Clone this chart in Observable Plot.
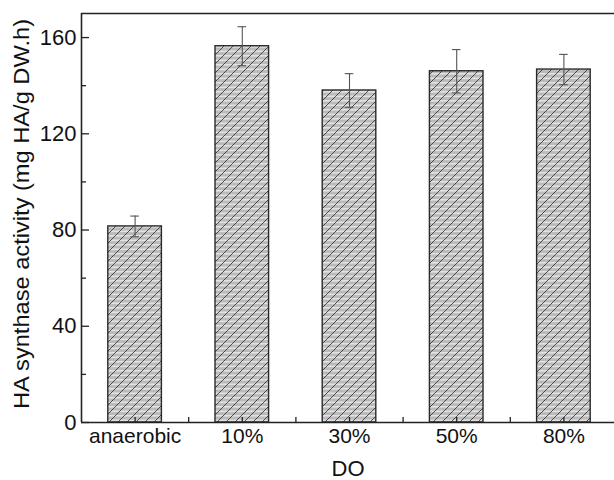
<!DOCTYPE html>
<html>
<head>
<meta charset="utf-8">
<script src="https://cdn.jsdelivr.net/npm/d3@7"></script>
<script src="https://cdn.jsdelivr.net/npm/@observablehq/plot@0.6"></script>
<style>
  html, body { margin: 0; padding: 0; background: #fff; }
  #chart svg { display: block; }
</style>
</head>
<body>
<div id="chart"></div>
<script>
const categories = ["anaerobic", "10%", "30%", "50%", "80%"];
const positions = [1, 2, 3, 4, 5];
const activity = [81.5, 156.4, 138.0, 146.0, 146.7];
const errors = [4.3, 8.1, 7.0, 9.0, 6.3];
const yMajorTicks = [0, 40, 80, 120, 160];
const yMinorTicks = [20, 60, 100, 140];
const xTicks = [1, 1.5, 2, 2.5, 3, 3.5, 4, 4.5, 5, 5.5];
const yLabel = "HA synthase activity (mg HA/g DW.h)";
const xLabel = "DO";

const data = categories.map((c, i) => ({cat: c, pos: positions[i], value: activity[i], err: errors[i]}));
const halfBar = 0.25;
const capHalf = 0.04;
const axisColor = "#222";

const svg = Plot.plot({
  width: 614,
  height: 480,
  marginLeft: 81,
  marginRight: 0,
  marginTop: 13,
  marginBottom: 58,
  style: {fontFamily: "'Liberation Sans', Arial, sans-serif", fontSize: "21px", color: "#111", background: "#fff"},
  x: {domain: [0.5, 5.5], range: [81, 617]},
  y: {domain: [0, 170]},
  marks: [
    Plot.rectY(data, {x1: d => d.pos - halfBar, x2: d => d.pos + halfBar, y: "value", fill: "url(#hatch)", stroke: "#2a2a2a", strokeWidth: 1.4}),
    Plot.ruleX(data, {x: "pos", y1: d => d.value - d.err, y2: d => d.value + d.err, stroke: "#555", strokeWidth: 1.1}),
    Plot.ruleY(data, {y: d => d.value + d.err, x1: d => d.pos - capHalf, x2: d => d.pos + capHalf, stroke: "#555", strokeWidth: 1.1}),
    Plot.ruleY(data, {y: d => d.value - d.err, x1: d => d.pos - capHalf, x2: d => d.pos + capHalf, stroke: "#555", strokeWidth: 1.1}),
    // frame lines
    Plot.ruleY([170], {stroke: axisColor, strokeWidth: 1.6}),
    Plot.ruleY([0], {stroke: axisColor, strokeWidth: 1.6}),
    Plot.ruleX([0.5], {stroke: axisColor, strokeWidth: 1.6}),
    // y axis
    Plot.axisY({ticks: yMajorTicks, tickSize: 0, tickPadding: 5, label: null, fontSize: 22}),
    Plot.axisY({ticks: yMajorTicks, tickSize: -8, tickFormat: () => "", label: null, stroke: axisColor, strokeWidth: 1.3}),
    Plot.axisY({ticks: yMinorTicks, tickSize: -5, tickFormat: () => "", label: null, stroke: axisColor, strokeWidth: 1.3}),
    // x axis
    Plot.axisX({ticks: positions, tickSize: 0, tickPadding: 6, tickFormat: (d) => categories[positions.indexOf(d)], label: null, fontSize: 21}),
    Plot.axisX({ticks: xTicks, tickSize: -5, tickFormat: () => "", label: null, stroke: axisColor, strokeWidth: 1.3}),
    // axis labels
    Plot.text([xLabel], {frameAnchor: "bottom", dy: 46, lineAnchor: "middle", fontSize: 22, fill: "#111"}),
    Plot.text([yLabel], {frameAnchor: "left", dx: -60, dy: -4, rotate: -90, textAnchor: "middle", lineAnchor: "middle", fontSize: 22, fill: "#111", className: "ylab"})
  ]
});

svg.insertAdjacentHTML("afterbegin",
  '<defs><pattern id="hatch" patternUnits="userSpaceOnUse" width="9" height="9">' +
  '<rect width="9" height="9" fill="#bababa"/>' +
  '<rect y="1" width="9" height="1.6" fill="#e2e2e2"/>' +
  '<rect y="5.5" width="9" height="1.6" fill="#e2e2e2"/>' +
  '<path d="M0,9 L9,0 M-1,1 L1,-1 M8,10 L10,8" stroke="#2a2a2a" stroke-width="0.8" fill="none"/>' +
  '</pattern></defs>');

d3.select(svg).selectAll(".ylab text")
  .attr("textLength", 390)
  .attr("lengthAdjust", "spacingAndGlyphs");

document.getElementById("chart").appendChild(svg);
</script>
</body>
</html>
